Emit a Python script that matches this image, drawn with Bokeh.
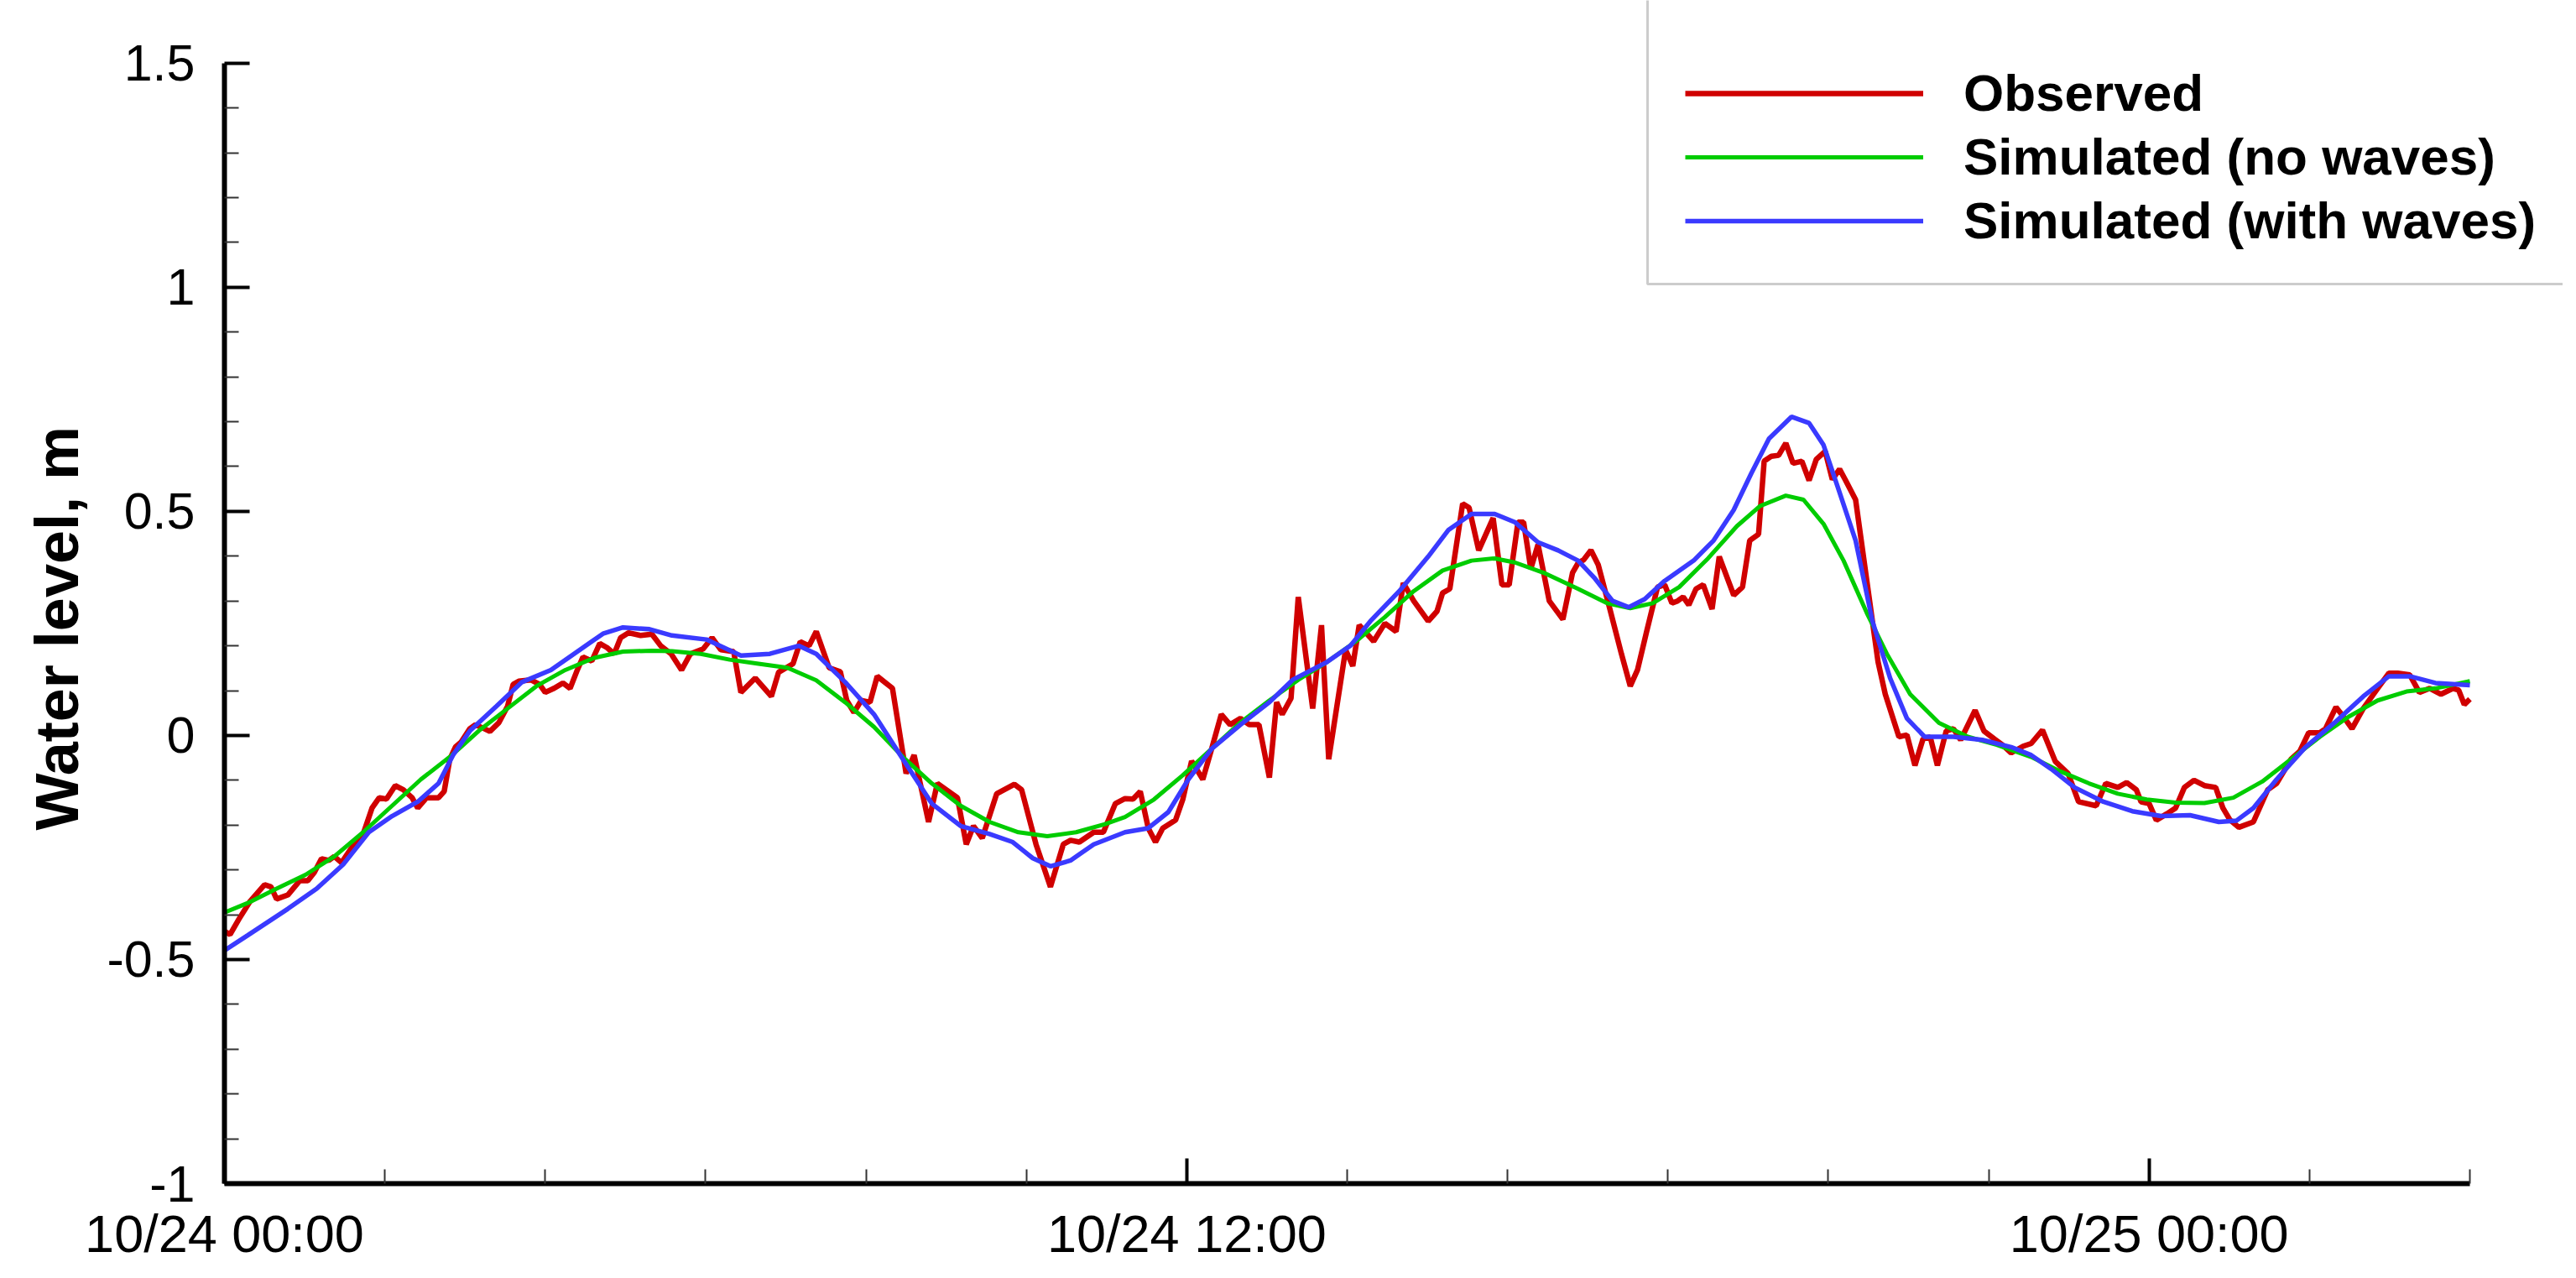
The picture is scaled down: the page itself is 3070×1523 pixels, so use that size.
from bokeh.plotting import figure
from bokeh.models import Range1d, FixedTicker, Legend, LegendItem, Title, BoxAnnotation
from bokeh.embed import file_html
from bokeh.resources import INLINE

# ---- data (hours after 10/24 00:00, water level in m) ----
obs_t = [0.00, 0.07, 0.18, 0.32, 0.50, 0.58, 0.65, 0.79, 0.94, 1.04, 1.12, 1.21, 1.30, 1.37, 1.46, 1.58,
         1.73, 1.84, 1.93, 2.02, 2.13, 2.23, 2.34, 2.41, 2.52, 2.67, 2.74, 2.81, 2.88, 2.95, 3.06, 3.13,
         3.24, 3.31, 3.42, 3.53, 3.60, 3.67, 3.82, 3.93, 4.00, 4.11, 4.22, 4.31, 4.40, 4.47, 4.58, 4.68,
         4.77, 4.86, 4.94, 5.04, 5.19, 5.33, 5.44, 5.57,
         5.70, 5.81, 5.97, 6.08, 6.19, 6.35, 6.44, 6.62, 6.82, 6.91, 7.09, 7.18, 7.29, 7.38, 7.54, 7.68,
         7.76, 7.85, 7.94, 8.05, 8.14, 8.33, 8.50, 8.60, 8.78, 8.89, 9.14, 9.25, 9.34, 9.45, 9.63, 9.85,
         9.94, 10.12, 10.30, 10.46, 10.55, 10.66, 10.84, 10.96, 11.11, 11.23,
         11.33, 11.42, 11.52, 11.61, 11.70, 11.86, 11.95, 12.06, 12.20, 12.31, 12.43, 12.54, 12.67, 12.78,
         12.90, 13.03, 13.12, 13.19, 13.30, 13.39, 13.57, 13.68, 13.77, 13.98, 14.07, 14.15, 14.33, 14.47,
         14.61, 14.70, 14.83, 15.01, 15.12, 15.19, 15.28, 15.44, 15.52, 15.64, 15.82, 15.93, 16.02, 16.13,
         16.20, 16.29, 16.38, 16.52, 16.69, 16.81, 16.88,
         16.95, 17.04, 17.13, 17.27, 17.42, 17.53, 17.62, 17.74, 17.87, 17.96, 18.05, 18.12, 18.19, 18.26,
         18.35, 18.44, 18.55, 18.64, 18.82, 18.93, 19.02, 19.13, 19.20, 19.29, 19.38, 19.47, 19.56, 19.67,
         19.76, 19.85, 19.96, 20.05, 20.14, 20.21, 20.34, 20.48, 20.62, 20.71, 20.88, 20.98, 21.08, 21.18,
         21.27, 21.36, 21.47, 21.56, 21.65, 21.83, 21.94, 22.07, 22.17, 22.28, 22.43, 22.53,
         22.67, 22.83, 22.99, 23.12, 23.34, 23.46, 23.61, 23.72, 23.84, 23.90, 24.00, 24.09, 24.22, 24.33,
         24.44, 24.56, 24.69, 24.83, 24.92, 25.01, 25.12, 25.30, 25.48, 25.59, 25.77, 25.88, 25.99, 26.13,
         26.20, 26.33, 26.44, 26.53, 26.67, 26.85, 26.99, 27.10, 27.25, 27.37, 27.50, 27.64, 27.79, 27.86,
         27.93, 28.00]
obs_v = [-0.437, -0.444, -0.410, -0.370, -0.333, -0.338, -0.365, -0.356, -0.324, -0.324, -0.306, -0.275,
         -0.279, -0.270, -0.284, -0.252, -0.220, -0.162, -0.139, -0.142, -0.112, -0.121, -0.139, -0.162,
         -0.139, -0.139, -0.125, -0.053, -0.026, -0.015, 0.015, 0.024, 0.015, 0.009, 0.028, 0.065, 0.114,
         0.121, 0.124, 0.114, 0.096, 0.105, 0.117, 0.105, 0.146, 0.175, 0.166, 0.205, 0.196, 0.182, 0.218,
         0.229, 0.223, 0.226, 0.200, 0.182,
         0.146, 0.182, 0.193, 0.218, 0.191, 0.187, 0.096, 0.128, 0.087, 0.141, 0.160, 0.209, 0.200, 0.232,
         0.151, 0.142, 0.078, 0.051, 0.078, 0.074, 0.132, 0.105, -0.085, -0.044, -0.193, -0.107, -0.139,
         -0.243, -0.202, -0.229, -0.130, -0.109, -0.121, -0.243, -0.338, -0.243, -0.234, -0.238, -0.216,
         -0.216, -0.152, -0.141,
         -0.142, -0.125, -0.207, -0.238, -0.207, -0.189, -0.143, -0.057, -0.098, -0.030, 0.047, 0.024,
         0.038, 0.024, 0.024, -0.094, 0.074, 0.047, 0.083, 0.309, 0.060, 0.246, -0.053, 0.191, 0.155,
         0.246, 0.210, 0.250, 0.232, 0.340, 0.300, 0.255, 0.277, 0.318, 0.327, 0.517, 0.508, 0.413, 0.485,
         0.336, 0.336, 0.476, 0.476, 0.372, 0.426, 0.300, 0.259, 0.363, 0.385,
         0.392, 0.413, 0.381, 0.286, 0.182, 0.110, 0.146, 0.236, 0.331, 0.336, 0.295, 0.300, 0.309, 0.291,
         0.327, 0.336, 0.282, 0.399, 0.313, 0.331, 0.435, 0.449, 0.612, 0.623, 0.625, 0.652, 0.607, 0.612,
         0.569, 0.616, 0.634, 0.571, 0.594, 0.571, 0.526, 0.345, 0.164, 0.092, -0.003, 0.001, -0.067,
         -0.008, -0.003, -0.067, 0.010, 0.015, -0.010, 0.056, 0.010, -0.008, -0.021, -0.039, -0.024, -0.018,
         0.012, -0.058, -0.085, -0.148, -0.157, -0.107, -0.116, -0.105, -0.121, -0.148, -0.152, -0.189,
         -0.175, -0.162, -0.116, -0.100, -0.112, -0.116, -0.162, -0.189, -0.205, -0.193, -0.121, -0.107,
         -0.053, -0.035, 0.006, 0.006, 0.015, 0.063, 0.038, 0.015, 0.060, 0.105, 0.139, 0.139, 0.135,
         0.096, 0.105, 0.092, 0.105, 0.101, 0.069, 0.081]

nowave_t = [0.00, 0.29, 0.65, 1.01, 1.37, 1.73, 2.09, 2.45, 2.81, 3.17, 3.53, 3.89, 4.25, 4.61, 4.97, 5.33,
            5.58, 5.94, 6.30, 6.66, 7.02, 7.38, 7.74, 8.10, 8.46, 8.82, 9.18, 9.54, 9.90, 10.26, 10.62,
            10.98, 11.23, 11.59, 11.95, 12.31, 12.67, 13.03, 13.39, 13.75, 14.11, 14.47, 14.83, 15.19,
            15.55, 15.84, 16.09, 16.45, 16.88, 17.24, 17.53, 17.81, 18.14, 18.50, 18.86, 19.15, 19.47,
            19.69, 19.94, 20.19, 20.48, 20.73, 21.02, 21.38, 21.74, 22.10, 22.53, 22.89, 23.25, 23.61,
            23.97, 24.33, 24.69, 25.05, 25.41, 25.77, 26.13, 26.49, 26.85, 27.21, 27.57, 28.00]
nowave_v = [-0.395, -0.374, -0.342, -0.311, -0.270, -0.216, -0.157, -0.098, -0.048, 0.010, 0.060, 0.110,
            0.146, 0.173, 0.187, 0.189, 0.188, 0.182, 0.169, 0.160, 0.151, 0.123, 0.074, 0.019, -0.048,
            -0.107, -0.157, -0.193, -0.216, -0.225, -0.216, -0.198, -0.182, -0.143, -0.089, -0.030, 0.029,
            0.078, 0.124, 0.164, 0.210, 0.264, 0.322, 0.368, 0.390, 0.395, 0.386, 0.363, 0.327, 0.295,
            0.284, 0.295, 0.331, 0.395, 0.467, 0.512, 0.535, 0.526, 0.472, 0.390, 0.273, 0.182, 0.092,
            0.028, -0.003, -0.021, -0.048, -0.080, -0.107, -0.130, -0.143, -0.150, -0.151, -0.139, -0.103,
            -0.053, -0.003, 0.042, 0.078, 0.098, 0.105, 0.121]

wave_t = [0.00, 0.29, 0.79, 1.15, 1.48, 1.80, 2.09, 2.41, 2.67, 2.85, 3.06, 3.39, 3.71, 4.07, 4.43, 4.72,
          4.97, 5.30, 5.58, 6.01, 6.44, 6.80, 7.16, 7.38, 7.74, 8.10, 8.46, 8.82, 9.18, 9.54, 9.83, 10.08,
          10.30, 10.55, 10.84, 11.23, 11.52, 11.77, 12.02, 12.31, 12.67, 13.03, 13.32, 13.75, 14.04, 14.29,
          14.65, 15.01, 15.26, 15.55, 15.84, 16.09, 16.38, 16.63, 16.88, 17.09, 17.31, 17.51, 17.71, 17.96,
          18.32, 18.57, 18.82, 19.04, 19.26, 19.54, 19.76, 19.94, 20.12, 20.34, 20.55, 20.77, 20.98, 21.20,
          21.56, 21.92, 22.28, 22.53, 22.78, 23.07, 23.43, 23.79, 24.15, 24.51, 24.87, 25.09, 25.30, 25.59,
          25.95, 26.31, 26.67, 26.99, 27.25, 27.57, 28.00]
wave_v = [-0.480, -0.446, -0.387, -0.342, -0.288, -0.216, -0.180, -0.148, -0.107, -0.044, 0.010, 0.065,
          0.119, 0.146, 0.191, 0.227, 0.241, 0.237, 0.223, 0.214, 0.178, 0.182, 0.200, 0.182, 0.119, 0.047,
          -0.053, -0.152, -0.202, -0.220, -0.238, -0.274, -0.292, -0.279, -0.243, -0.216, -0.207, -0.171,
          -0.098, -0.030, 0.024, 0.074, 0.124, 0.164, 0.200, 0.255, 0.322, 0.399, 0.458, 0.494, 0.494,
          0.476, 0.431, 0.413, 0.390, 0.350, 0.300, 0.286, 0.304, 0.345, 0.390, 0.435, 0.503, 0.585, 0.662,
          0.711, 0.697, 0.648, 0.553, 0.435, 0.255, 0.128, 0.038, -0.003, -0.003, -0.010, -0.026, -0.044,
          -0.075, -0.116, -0.148, -0.169, -0.180, -0.178, -0.193, -0.190, -0.162, -0.098, -0.026, 0.028,
          0.087, 0.132, 0.132, 0.117, 0.112]

series_labels = ["Observed", "Simulated (no waves)", "Simulated (with waves)"]
y_axis_title = "Water level, m"
x_ticks = [0, 12, 24]
x_tick_labels = ["10/24 00:00", "10/24 12:00", "10/25 00:00"]
x_minor = [2, 4, 6, 8, 10, 14, 16, 18, 20, 22, 26, 28]
y_ticks = [-1.0, -0.5, 0.0, 0.5, 1.0, 1.5]
y_tick_labels = ["-1", "-0.5", "0", "0.5", "1", "1.5"]
y_minor = [-0.9, -0.8, -0.7, -0.6, -0.4, -0.3, -0.2, -0.1, 0.1, 0.2, 0.3, 0.4,
           0.6, 0.7, 0.8, 0.9, 1.1, 1.2, 1.3, 1.4]
x_axis_bounds = (0, 28)
y_axis_bounds = (-1, 1.5)

FONT = "Liberation Sans"

# frame: left 267, right 3054 (canvas edge), top 0, bottom 1413 (px)
p = figure(width=3054, height=1507, x_range=Range1d(0, 29.161), y_range=Range1d(-1, 1.64),
           output_backend="svg", toolbar_location=None,
           min_border_left=267, min_border_right=0, min_border_top=0, min_border_bottom=94)
p.xgrid.visible = False
p.ygrid.visible = False
p.outline_line_color = None
p.background_fill_color = "white"
p.border_fill_color = "white"

r_obs = p.line(obs_t, obs_v, line_color="#d00000", line_width=6.5)
r_now = p.line(nowave_t, nowave_v, line_color="#00cc00", line_width=5)
r_wav = p.line(wave_t, wave_v, line_color="#3a3aff", line_width=5.5)

for ax in (p.xaxis[0], p.yaxis[0]):
    ax.axis_line_width = 6
    ax.axis_line_color = "black"
    ax.major_tick_line_width = 4
    ax.major_tick_line_color = "black"
    ax.major_tick_in = 30
    ax.major_tick_out = 0
    ax.minor_tick_line_width = 2
    ax.minor_tick_line_color = "#333333"
    ax.minor_tick_in = 17
    ax.minor_tick_out = 0
    ax.major_label_text_font = FONT
    ax.major_label_text_color = "black"

xa = p.xaxis[0]
xa.bounds = x_axis_bounds
xa.ticker = FixedTicker(ticks=x_ticks, minor_ticks=x_minor)
xa.major_label_overrides = dict(zip(x_ticks, x_tick_labels))
xa.major_label_text_font_size = "63px"
xa.major_label_standoff = 24

ya = p.yaxis[0]
ya.bounds = y_axis_bounds
ya.ticker = FixedTicker(ticks=y_ticks, minor_ticks=y_minor)
ya.major_label_overrides = dict(zip(y_ticks, y_tick_labels))
ya.major_label_text_font_size = "61px"
ya.major_label_standoff = 35

# y-axis title placed along the axis span (-1 .. 1.5)
ytitle = Title(text=y_axis_title, align="left", offset=421, vertical_align="top", standoff=30,
               text_font=FONT, text_font_style="bold", text_font_size="72px",
               text_color="black")
p.add_layout(ytitle, "left")

# legend frame: only its left and bottom edges fall inside the picture
legend_frame = BoxAnnotation(left=1696, right=2950, bottom=1072, top=1500,
                             left_units="screen", right_units="screen",
                             bottom_units="screen", top_units="screen",
                             fill_color="white", fill_alpha=1.0,
                             line_color="#555555", line_width=3)
p.add_layout(legend_frame)

legend = Legend(items=[LegendItem(label=series_labels[0], renderers=[r_obs]),
                       LegendItem(label=series_labels[1], renderers=[r_now]),
                       LegendItem(label=series_labels[2], renderers=[r_wav])],
                location=(1741, 1112), margin=0, padding=0, spacing=5,
                glyph_width=284, glyph_height=40, label_standoff=48,
                label_text_font=FONT, label_text_font_style="bold",
                label_text_font_size="62px", label_text_color="black",
                border_line_color=None, background_fill_alpha=0.0)
p.add_layout(legend)

open("out.html", "w").write(file_html(p, INLINE))
